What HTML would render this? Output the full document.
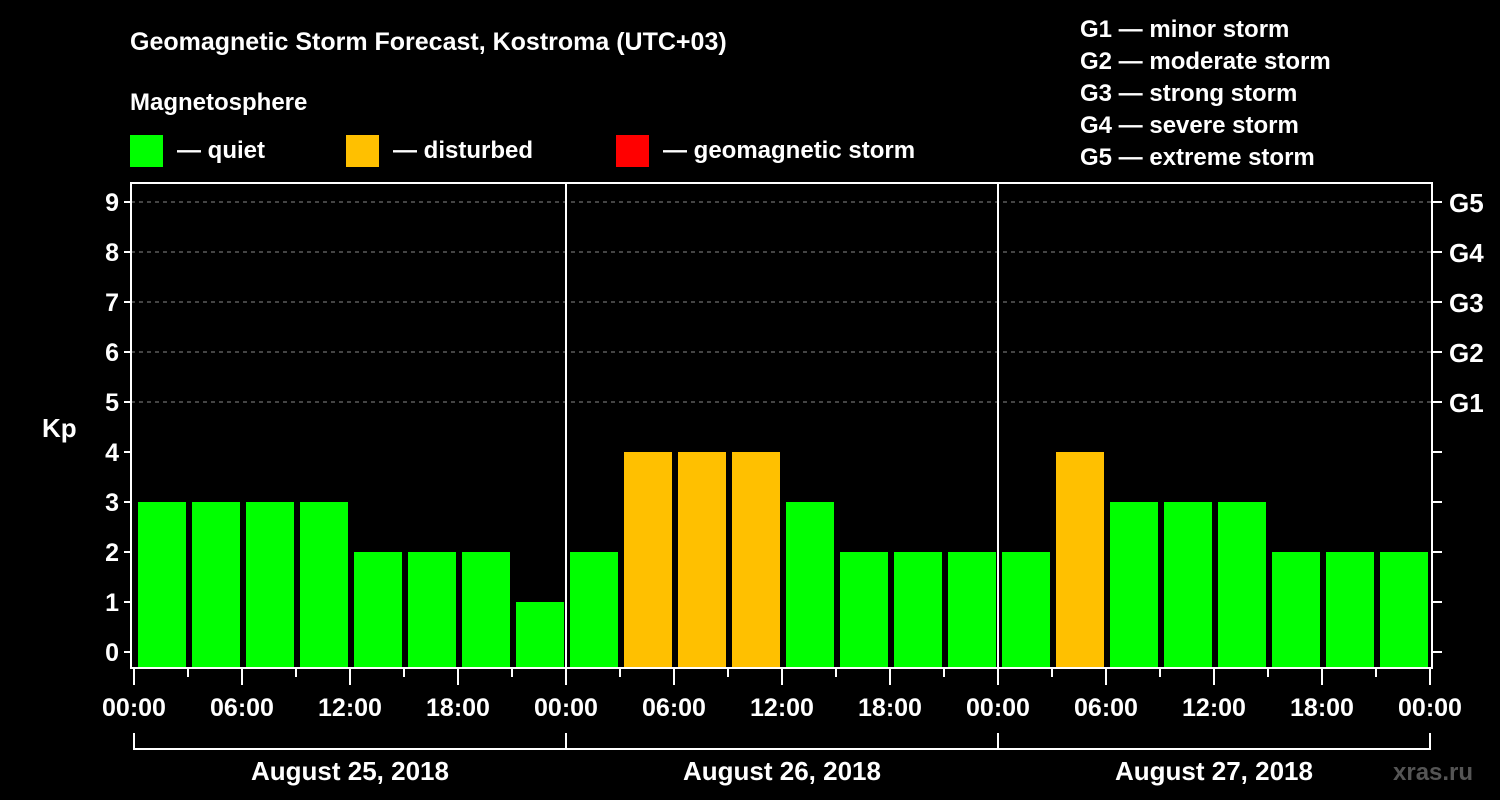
<!DOCTYPE html>
<html><head><meta charset="utf-8"><style>
html,body{margin:0;padding:0;background:#000;width:1500px;height:800px;overflow:hidden}
svg text{font-family:"Liberation Sans",Arial,sans-serif;font-weight:bold;fill:#fff}
</style></head><body>
<svg id="chart" width="1500" height="800" viewBox="0 0 1500 800" xmlns="http://www.w3.org/2000/svg">
<text x="130" y="50" font-size="25">Geomagnetic Storm Forecast, Kostroma (UTC+03)</text>
<text x="130" y="110" font-size="24">Magnetosphere</text>
<g>
<rect x="130" y="135" width="33" height="32" fill="#00ff00"/>
<text x="177" y="158" font-size="24">— quiet</text>
<rect x="346" y="135" width="33" height="32" fill="#ffc000"/>
<text x="393" y="158" font-size="24">— disturbed</text>
<rect x="616" y="135" width="33" height="32" fill="#ff0000"/>
<text x="663" y="158" font-size="24">— geomagnetic storm</text>
</g>
<g font-size="24">
<text x="1080" y="37" font-size="24">G1 — minor storm</text>
<text x="1080" y="69" font-size="24">G2 — moderate storm</text>
<text x="1080" y="101" font-size="24">G3 — strong storm</text>
<text x="1080" y="133" font-size="24">G4 — severe storm</text>
<text x="1080" y="165" font-size="24">G5 — extreme storm</text>
</g>
<text x="42" y="437" font-size="26">Kp</text>
<text x="1393" y="780" font-size="24" style="fill:#555">xras.ru</text>
<g id="plot"></g>
</svg>
<script>
const kpValues=[3,3,3,3,2,2,2,1, 2,4,4,4,3,2,2,2, 2,4,3,3,3,2,2,2];
const yTicks=[0,1,2,3,4,5,6,7,8,9];
const gLevels=[5,6,7,8,9];
const gLabels=["G1","G2","G3","G4","G5"];
const hourLabels=["00:00","06:00","12:00","18:00","00:00","06:00","12:00","18:00","00:00","06:00","12:00","18:00","00:00"];
const dayLabels=["August 25, 2018","August 26, 2018","August 27, 2018"];

const NS="http://www.w3.org/2000/svg";
const plot=document.getElementById('plot');
const X0=134,SLOT=54,Y0=652,UNIT=50,LEFT=131,RIGHT=1432,TOP=183,BOT=668;
const xs=i=>X0+i*SLOT;
const ys=v=>Y0-v*UNIT;
function mk(tag,a){const e=document.createElementNS(NS,tag);for(const k in a)e.setAttribute(k,a[k]);plot.appendChild(e);return e;}
function color(v){return v>=5?"#ff0000":(v>=4?"#ffc000":"#00ff00");}

// grid
gLevels.forEach((v,i)=>{
  const l=mk('line',{x1:LEFT,x2:RIGHT,y1:ys(v),y2:ys(v),stroke:'#888','stroke-width':1,'stroke-dasharray':'4,4'});
  
  
});
// bars
kpValues.forEach((v,i)=>{
  const r=mk('rect',{x:xs(i)+4,y:ys(v),width:48,height:BOT-1-ys(v),fill:color(v)});
  
  
});
// frame
const f=mk('rect',{x:LEFT,y:TOP,width:RIGHT-LEFT,height:BOT-TOP,fill:'none',stroke:'#fff','stroke-width':2});


// day separators
[1,2].forEach(d=>{
  const l=mk('line',{x1:xs(d*8),x2:xs(d*8),y1:TOP,y2:BOT,stroke:'#fff','stroke-width':2});
  
  
});
// y ticks
yTicks.forEach(v=>{
  const t=mk('line',{x1:LEFT-7,x2:LEFT,y1:ys(v),y2:ys(v),stroke:'#fff','stroke-width':2});
  
  
  const t2=mk('line',{x1:RIGHT,x2:RIGHT+10,y1:ys(v),y2:ys(v),stroke:'#fff','stroke-width':2});
  
  
  const tx=mk('text',{x:LEFT-12,y:ys(v)+9,'font-size':25,'text-anchor':'end'});
  tx.textContent=v;
  
  
});
gLevels.forEach((v,i)=>{
  const tx=mk('text',{x:1449,y:ys(v)+10,'font-size':26});
  tx.textContent=gLabels[i];
  
  
});
// x ticks
for(let i=0;i<=24;i++){
  const major=i%2===0;
  const t=mk('line',{x1:xs(i),x2:xs(i),y1:BOT,y2:major?685:677,stroke:'#fff','stroke-width':2});
  
  
}
hourLabels.forEach((s,i)=>{
  const tx=mk('text',{x:xs(i*2),y:716,'font-size':25,'text-anchor':'middle'});
  tx.textContent=s;
  
  
});
// day brackets
const b=mk('path',{d:`M${xs(0)},733 V749 H${xs(24)} V733 M${xs(8)},733 V749 M${xs(16)},733 V749`,fill:'none',stroke:'#fff','stroke-width':2});


dayLabels.forEach((s,i)=>{
  const tx=mk('text',{x:xs(i*8+4),y:780,'font-size':26,'text-anchor':'middle'});
  tx.textContent=s;
  
  
});
</script>
</body></html>
